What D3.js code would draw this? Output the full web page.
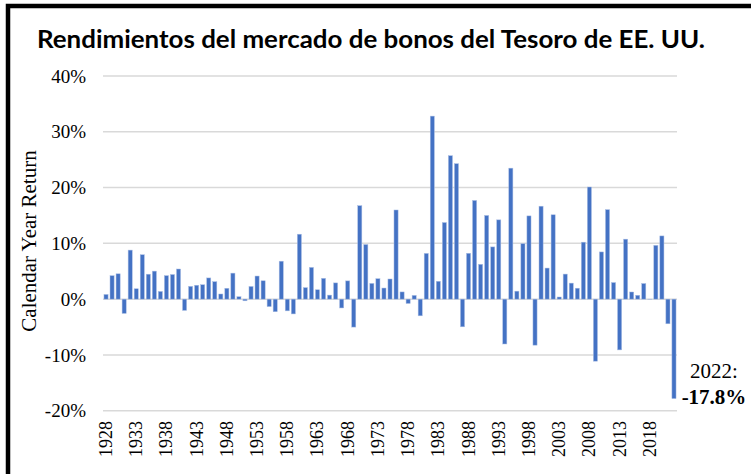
<!DOCTYPE html>
<html><head><meta charset="utf-8">
<script src="https://cdn.jsdelivr.net/npm/d3@7"></script>
<style>
html,body{margin:0;padding:0;background:#fff;}
svg{display:block;}
</style></head>
<body>
<script>
const years = d3.range(1928, 2023);
const returns = [
 0.84, 4.20, 4.54, -2.56, 8.79, 1.86, 7.96, 4.47, 5.02, 1.38,
 4.21, 4.41, 5.40, -2.02, 2.29, 2.49, 2.58, 3.80, 3.13, 0.92,
 1.95, 4.66, 0.43, -0.30, 2.27, 4.14, 3.29, -1.34, -2.26, 6.80,
 -2.10, -2.65, 11.64, 2.06, 5.69, 1.68, 3.73, 0.72, 2.91, -1.58,
 3.27, -5.01, 16.75, 9.79, 2.82, 3.66, 1.99, 3.61, 15.98, 1.29,
 -0.78, 0.67, -2.99, 8.20, 32.81, 3.20, 13.73, 25.71, 24.28, -4.96,
 8.22, 17.69, 6.24, 15.00, 9.36, 14.21, -8.04, 23.48, 1.43, 9.94,
 14.92, -8.25, 16.66, 5.57, 15.12, 0.38, 4.49, 2.87, 1.96, 10.21,
 20.10, -11.12, 8.46, 16.04, 2.97, -9.10, 10.75, 1.28, 0.69, 2.80,
 -0.02, 9.64, 11.33, -4.42, -17.83
];
const yTicks = [-20, -10, 0, 10, 20, 30, 40];
const xTickYears = d3.range(1928, 2019, 5);
const titleText = "Rendimientos del mercado de bonos del Tesoro de EE. UU.";
const yAxisTitle = "Calendar Year Return";
const noteLabels = ["2022:", "-17.8%"];

const W = 751, H = 474;
const svg = d3.select("body").append("svg").attr("width", W).attr("height", H);

// frame
svg.append("rect").attr("x", 8).attr("y", 6).attr("width", W + 10).attr("height", H + 10)
  .attr("fill", "none").attr("stroke", "#000").attr("stroke-width", 4.5);

const x = d3.scaleBand().domain(years).range([103, 677]).paddingInner(0.32).paddingOuter(0.16);
const y = d3.scaleLinear().domain([-20, 40]).range([410.7, 76]);

// gridlines
svg.append("g").selectAll("line").data(yTicks).join("line")
  .attr("x1", 103).attr("x2", 677)
  .attr("y1", d => y(d)).attr("y2", d => y(d))
  .attr("stroke", "#d9d9d9").attr("stroke-width", 1.5);

// y axis labels
const yAxis = d3.axisLeft(y).tickValues(yTicks).tickFormat(d => d + "%").tickSize(0).tickPadding(0);
const gy = svg.append("g").attr("transform", "translate(86,0)").call(yAxis);
gy.select(".domain").remove();
gy.selectAll("text").attr("font-family", "Liberation Serif, Times New Roman, serif")
  .attr("font-size", 19).attr("fill", "#000");

// bars
svg.append("g").selectAll("rect").data(years).join("rect")
  .attr("x", d => x(d))
  .attr("width", x.bandwidth())
  .attr("y", (d, i) => y(Math.max(0, returns[i])))
  .attr("height", (d, i) => Math.abs(y(returns[i]) - y(0)))
  .attr("fill", "#4472C4")
  .attr("stroke", "#a9bde4").attr("stroke-width", 0.5);

// x axis labels
const xAxis = d3.axisBottom(x).tickValues(xTickYears).tickSize(0).tickPadding(0);
const gx = svg.append("g").attr("transform", "translate(0,421)").call(xAxis);
gx.select(".domain").remove();
gx.selectAll("text")
  .attr("font-family", "Liberation Serif, Times New Roman, serif")
  .attr("font-size", 18).attr("fill", "#000")
  .attr("transform", "rotate(-90)")
  .attr("text-anchor", "end")
  .attr("x", 0).attr("y", 0).attr("dy", "0.33em");

// title
svg.append("text").attr("x", 37).attr("y", 48)
  .attr("font-family", "Lato, sans-serif").attr("font-weight", "bold")
  .attr("font-size", 25).attr("fill", "#000")
  .attr("textLength", 668).attr("lengthAdjust", "spacingAndGlyphs")
  .text(titleText);

// y axis title
svg.append("text")
  .attr("transform", "translate(36,241) rotate(-90)")
  .attr("text-anchor", "middle")
  .attr("font-family", "Liberation Serif, Times New Roman, serif")
  .attr("font-size", 21).attr("fill", "#000").text(yAxisTitle);

// annotation
svg.append("text").attr("x", 714).attr("y", 378).attr("text-anchor", "middle")
  .attr("font-family", "Liberation Serif, Times New Roman, serif")
  .attr("font-size", 21).attr("fill", "#000").text(noteLabels[0]);
svg.append("text").attr("x", 714).attr("y", 404).attr("text-anchor", "middle")
  .attr("font-family", "Liberation Serif, Times New Roman, serif").attr("font-weight", "bold")
  .attr("font-size", 21).attr("fill", "#000").text(noteLabels[1]);
</script>
</body></html>
